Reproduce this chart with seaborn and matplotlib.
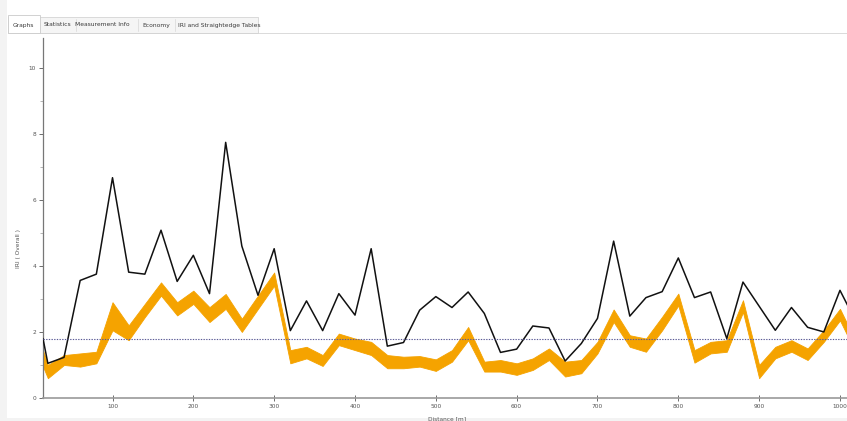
import matplotlib
matplotlib.use("Agg")
import matplotlib.pyplot as plt
from matplotlib.patches import Rectangle
import seaborn as sns
import pandas as pd

# Chainage of each reporting interval (m)
distance = [14, 20, 40, 60, 80, 100, 120, 140, 160, 180, 200, 220, 240, 260, 280,
            300, 320, 340, 360, 380, 400, 420, 440, 460, 480, 500, 520, 540, 560,
            580, 600, 620, 640, 660, 680, 700, 720, 740, 760, 780, 800, 820, 840,
            860, 880, 900, 920, 940, 960, 980, 1000, 1020]

# Overall IRI per interval
iri_overall = [1.80, 1.05, 1.23, 3.56, 3.75, 6.67, 3.81, 3.75, 5.08, 3.53, 4.32,
               3.16, 7.74, 4.60, 3.11, 4.52, 2.04, 2.94, 2.04, 3.16, 2.51, 4.52,
               1.57, 1.68, 2.66, 3.07, 2.74, 3.21, 2.56, 1.38, 1.48, 2.18, 2.12,
               1.12, 1.65, 2.41, 4.75, 2.48, 3.04, 3.22, 4.24, 3.04, 3.21, 1.80,
               3.51, 2.78, 2.05, 2.74, 2.14, 2.00, 3.26, 2.30]

# Straightedge range per interval (upper / lower)
band_upper = [1.45, 1.00, 1.30, 1.35, 1.40, 2.90, 2.20, 2.85, 3.50, 2.90, 3.25,
              2.75, 3.15, 2.40, 3.10, 3.80, 1.45, 1.55, 1.30, 1.95, 1.80, 1.70,
              1.30, 1.25, 1.27, 1.17, 1.45, 2.15, 1.10, 1.15, 1.05, 1.20, 1.50,
              1.10, 1.15, 1.70, 2.68, 1.90, 1.80, 2.46, 3.16, 1.45, 1.70, 1.75,
              2.96, 1.00, 1.55, 1.75, 1.50, 2.05, 2.70, 1.70]
band_lower = [0.95, 0.60, 1.00, 0.95, 1.05, 2.05, 1.75, 2.45, 3.10, 2.50, 2.85,
              2.30, 2.70, 2.00, 2.70, 3.40, 1.05, 1.20, 0.97, 1.60, 1.45, 1.30,
              0.90, 0.90, 0.95, 0.82, 1.10, 1.75, 0.80, 0.80, 0.70, 0.85, 1.15,
              0.65, 0.75, 1.35, 2.30, 1.55, 1.40, 2.05, 2.80, 1.07, 1.35, 1.40,
              2.60, 0.60, 1.20, 1.40, 1.15, 1.70, 2.35, 1.35]

threshold = 1.8
y_ticks = [0, 2, 4, 6, 8, 10]
x_ticks = [100, 200, 300, 400, 500, 600, 700, 800, 900, 1000]
tab_names = ["Graphs", "Statistics", "Measurement Info", "Economy",
             "IRI and Straightedge Tables"]

W, H = 847, 421
sns.set_theme(style="white")
plt.rcParams["font.family"] = ["DejaVu Sans"]

fig = plt.figure(figsize=(W / 100, H / 100), dpi=100)
fig.patch.set_facecolor("white")


def fx(px):
    return px / W


def fy(py):
    return 1 - py / H


# Window chrome: left strip, bottom strip, tab row
fig.add_artist(Rectangle((0, 0), fx(7), 1, transform=fig.transFigure,
                         facecolor="#f3f3f3", edgecolor="none", zorder=0))
fig.add_artist(Rectangle((0, 0), 1, fy(418), transform=fig.transFigure,
                         facecolor="#f3f3f3", edgecolor="none", zorder=0))
fig.add_artist(Rectangle((fx(8), fy(33)), fx(250), fy(17) - fy(33),
                         transform=fig.transFigure, facecolor="#f5f5f5",
                         edgecolor="#d4d4d4", linewidth=0.6, zorder=1))
fig.add_artist(Rectangle((fx(8), fy(33)), fx(32), fy(15) - fy(33),
                         transform=fig.transFigure, facecolor="white",
                         edgecolor="#cacaca", linewidth=0.6, zorder=2))
fig.add_artist(plt.Line2D([fx(40), fx(W)], [fy(33), fy(33)],
                          transform=fig.transFigure, color="#d4d4d4",
                          linewidth=0.6, zorder=1))
tab_x = [23, 57, 102, 156, 219]
for name, tx in zip(tab_names, tab_x):
    fig.text(fx(tx), fy(25), name, ha="center", va="center", fontsize=4.3,
             color="#3a3a3a", zorder=3)
for sep in [76, 138, 175]:
    fig.add_artist(plt.Line2D([fx(sep), fx(sep)], [fy(31), fy(19)],
                              transform=fig.transFigure, color="#dcdcdc",
                              linewidth=0.6, zorder=2))

ax = fig.add_axes([fx(43), fy(398), 1 - fx(43), fy(38) - fy(398)])
ax.set_facecolor("white")

df = pd.DataFrame({"distance": distance, "iri": iri_overall,
                   "upper": band_upper, "lower": band_lower})

ax.fill_between(df["distance"], df["lower"], df["upper"], color="#f5a300",
                linewidth=0.6, edgecolor="#f5a300", zorder=2)
sns.lineplot(data=df, x="distance", y="iri", color="#111111", linewidth=1.1,
             ax=ax, zorder=3)
ax.axhline(threshold, color="#5a5a96", linestyle=(0, (1.2, 1.2)),
           linewidth=0.8, zorder=4)

ax.set_xlim(14, 1008.7)
ax.set_ylim(0, 10.9)
ax.set_xticks(x_ticks)
ax.set_xticklabels([str(t) for t in x_ticks])
ax.set_yticks(y_ticks)
ax.set_yticklabels([str(t) for t in y_ticks])
ax.set_yticks([1, 3, 5, 7, 9], minor=True)
ax.tick_params(axis="both", which="major", labelsize=4.2, colors="#555555",
               length=3, width=0.6, pad=2, left=True, bottom=True)
ax.tick_params(axis="x", direction="inout", length=4)
ax.tick_params(axis="y", which="minor", length=2, width=0.5, left=True,
               colors="#999999")
ax.set_xlabel("")
ax.set_ylabel("")

for side in ["top", "right"]:
    ax.spines[side].set_visible(False)
ax.spines["left"].set_color("#777777")
ax.spines["left"].set_linewidth(0.9)
ax.spines["bottom"].set_color("#9a9a9a")
ax.spines["bottom"].set_linewidth(1.2)

fig.text(fx(18), fy(248), "IRI ( Overall )", rotation=90, ha="center",
         va="center", fontsize=4.2, color="#555555")
fig.text(fx(447), fy(419), "Distance [m]", ha="center", va="center",
         fontsize=4.2, color="#555555", zorder=5)

fig.savefig("out.png", dpi=100, facecolor="white")
